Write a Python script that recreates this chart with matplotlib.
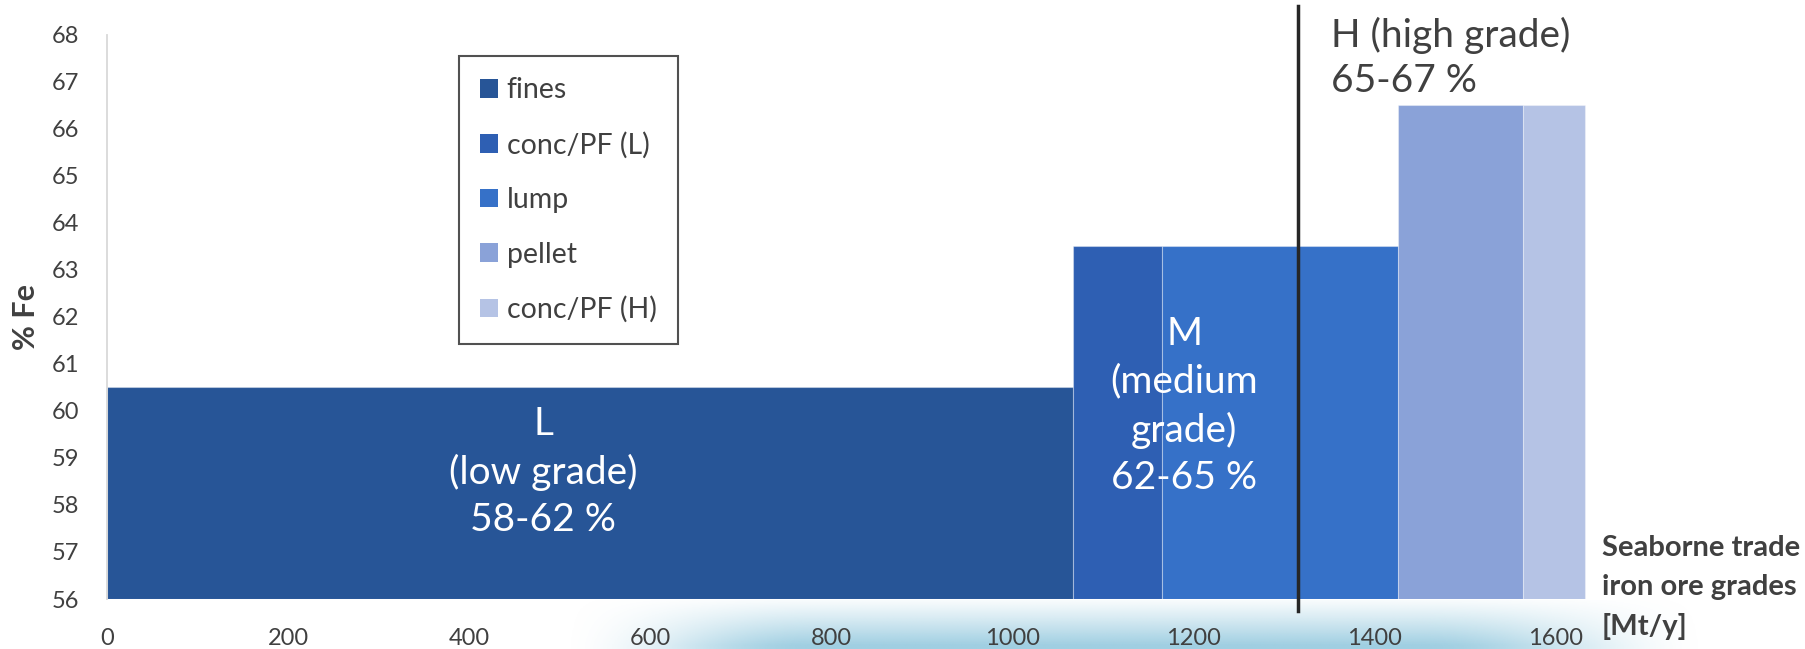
import numpy as np
import matplotlib.pyplot as plt
from matplotlib.patches import Patch

# seaborne trade by grade (Mt/y) and Fe content
grades = ['fines', 'conc/PF (L)', 'lump', 'pellet', 'conc/PF (H)']
volumes = [1067, 98, 261, 138, 69]
fe = [60.5, 63.5, 63.5, 66.5, 66.5]
colors = ['#275597', '#2E5FB3', '#3671C8', '#8AA2D8', '#B5C3E5']
split_x = 1315

plt.rcParams['font.family'] = ['Lato', 'DejaVu Sans']
txt = '#404040'

fig = plt.figure(figsize=(18.06, 6.49), dpi=100)
ax = fig.add_axes([107/1806, 1-599/649, (1590-107)/1806, (599-34.5)/649])
ax.set_zorder(2)

lefts = np.concatenate([[0], np.cumsum(volumes)[:-1]])
base = 56
for l, w, h, c, g in zip(lefts, volumes, fe, colors, grades):
    ax.bar(l, h - base, width=w, bottom=base, align='edge', color=c,
           edgecolor=(1, 1, 1, 0.35), linewidth=0.8, label=g, zorder=2)

ax.set_xlim(0, 1638)
ax.set_ylim(56, 68)
ax.set_yticks(np.arange(56, 69, 1))
ax.set_xticks(np.arange(0, 1601, 200))
ax.set_yticks(np.arange(56, 69, 2), minor=True)
ax.yaxis.grid(True, which='minor', color='#d9d9d9', linewidth=1.3, zorder=0)
ax.tick_params(axis='y', which='minor', length=0)
ax.tick_params(axis='both', which='major', length=0, labelsize=17, colors=txt, pad=20)
ax.tick_params(axis='x', pad=21)
for s in ['top', 'bottom', 'right']:
    ax.spines[s].set_visible(False)
ax.spines['left'].set_color('#d9d9d9')
ax.spines['left'].set_linewidth(1.3)

ax.set_ylabel('% Fe', fontsize=22, fontweight='bold', color=txt, labelpad=8)

# vertical split line between M and H
ax.plot([split_x, split_x], [55.75, 68.6], color='#262626', linewidth=2.5,
        clip_on=False, zorder=4)

ax.text(482, 58.7, 'L\n(low grade)\n58-62 %', color='white', fontsize=28,
        ha='center', va='center', linespacing=1.4, zorder=5)
ax.text(1190, 60.1, 'M\n(medium\ngrade)\n62-65 %', color='white', fontsize=28,
        ha='center', va='center', linespacing=1.4, zorder=5)
ax.text(1352, 67.5, 'H (high grade)\n65-67 %', color=txt, fontsize=28,
        ha='left', va='center', linespacing=1.3, zorder=5)

ax.text(1.008, 0.02, 'Seaborne trade\niron ore grades\n[Mt/y]', transform=ax.transAxes,
        fontsize=21, fontweight='bold', color=txt, ha='left', va='center',
        linespacing=1.6)

handles = [Patch(facecolor=c, edgecolor='none') for c in colors]
leg = ax.legend(handles, grades, loc='upper left', bbox_to_anchor=(352/1483, 0.962),
                fontsize=20.5, frameon=True, fancybox=False, edgecolor='#262626',
                handlelength=0.63, handleheight=0.63, handletextpad=0.3,
                labelspacing=1.0, borderpad=0.75, borderaxespad=0)
leg.get_frame().set_linewidth(1.5)
for t in leg.get_texts():
    t.set_color(txt)

# soft blue glow under the x axis
gx = np.linspace(0, 1, 400)
gy = np.linspace(0, 1, 60)
X, Y = np.meshgrid(gx, gy)
env = np.clip(X / 0.22, 0, 1) * np.clip((1 - X) / 0.25, 0, 1)
env = env * env * (3 - 2 * env)
alpha = np.clip(0.08 + Y ** 1.1, 0, 1) * env
img = np.zeros((60, 400, 4))
img[..., 0] = 160/255
img[..., 1] = 207/255
img[..., 2] = 226/255
img[..., 3] = alpha
gax = fig.add_axes([560/1806, 0, (1710-560)/1806, 49/649])
gax.set_zorder(0)
gax.imshow(img, aspect='auto', extent=[0, 1, 0, 1], origin='upper')
gax.axis('off')

fig.savefig('out.png', dpi=100)
